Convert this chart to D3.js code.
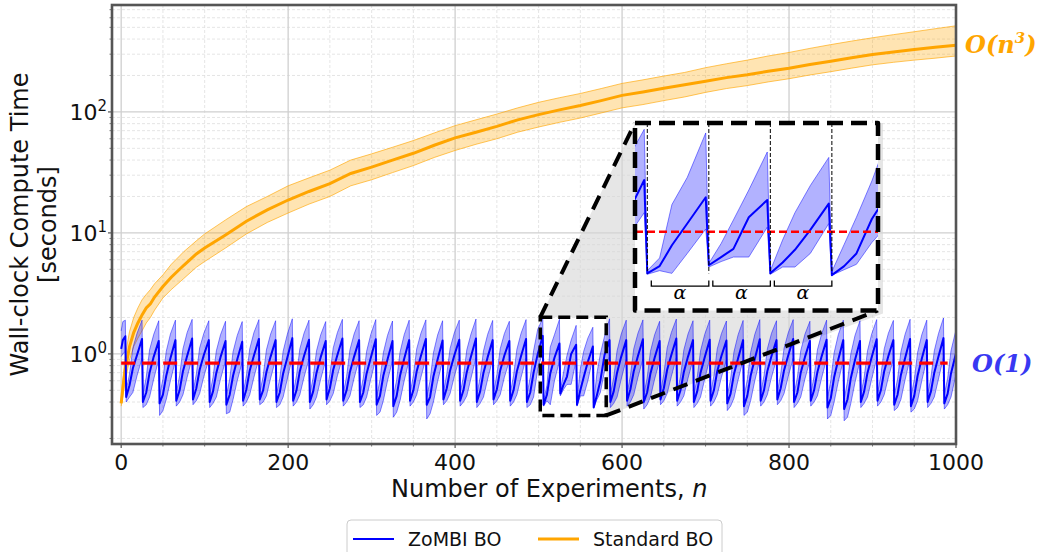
<!DOCTYPE html>
<html>
<head>
<meta charset="utf-8">
<script src="https://cdn.jsdelivr.net/npm/d3@7"></script>
<style>
  html, body { margin: 0; padding: 0; background: #fff; }
  svg { display: block; font-family: "DejaVu Sans", sans-serif; }
</style>
</head>
<body>
<svg id="chart" width="1043" height="552"></svg>
<script>
// --- Data ---
const xTicks = [0, 200, 400, 600, 800, 1000];
const yTicks = [1, 10, 100];
const yTickExp = ["0", "1", "2"];

// Standard BO: mean and spread, by number of experiments
const stdN    = [0, 2, 5, 10, 15, 20, 25, 30, 35, 40, 50, 60, 75, 90, 100, 125, 150, 175, 200, 225, 250, 275, 300, 325, 350, 375, 400, 425, 450, 475, 500, 525, 550, 575, 600, 625, 650, 675, 700, 725, 750, 775, 800, 825, 850, 875, 900, 925, 950, 975, 1000];
const stdMean = [0.39, 0.52, 0.75, 1.15, 1.5, 1.8, 2.1, 2.4, 2.6, 2.95, 3.6, 4.3, 5.4, 6.7, 7.5, 9.6, 12.5, 15.5, 18.7, 22, 25.5, 31, 35, 40, 45.5, 53, 61, 68, 76, 86, 95, 104, 113, 124, 137, 146, 157, 168, 179, 192, 203, 217, 230, 247, 262, 280, 298, 313, 328, 342, 355];
const stdLo   = [0.37, 0.45, 0.6, 0.89, 1.15, 1.35, 1.55, 1.8, 2.0, 2.3, 2.9, 3.4, 4.2, 5.2, 5.8, 7.5, 9.8, 12.2, 14.6, 17.3, 20, 24.5, 27.5, 31.5, 36, 42, 48, 54, 60, 68, 75, 82, 89, 98, 108, 115, 124, 133, 145, 156, 165, 177, 188, 202, 215, 230, 245, 257, 268, 278, 290];
const stdHi   = [0.42, 0.62, 0.98, 1.53, 2.0, 2.4, 2.8, 3.1, 3.4, 3.8, 4.5, 5.5, 7.0, 8.6, 9.8, 12.8, 16.5, 20, 24.5, 28.5, 33, 40, 45, 51, 58, 67, 77, 86, 96, 108, 120, 131, 142, 156, 172, 184, 198, 212, 232, 250, 268, 290, 310, 335, 360, 385, 410, 435, 460, 487, 515];

// ZoMBI BO: first partial segment, then one row per reset cycle (alpha = 20)
const headN    = [0, 2, 5];
const headMean = [1.10, 1.30, 1.40];
const headLo   = [0.95, 1.00, 1.05];
const headHi   = [1.55, 1.85, 1.90];

const cycleStart  = [6, 26, 46, 66, 86, 106, 126, 146, 166, 186, 206, 226, 246, 266, 286, 306, 326, 346, 366, 386, 406, 426, 446, 466, 486, 506, 526, 546, 566, 586, 606, 626, 646, 666, 686, 706, 726, 746, 766, 786, 806, 826, 846, 866, 886, 906, 926, 946, 966, 986];
const cycleOffset = [0, 4, 8, 13, 19];

const zombiMean = [
  [0.44, 0.55, 0.76, 0.98, 1.33], [0.40, 0.48, 0.70, 0.95, 1.28], [0.39, 0.46, 0.66, 0.92, 1.30],
  [0.41, 0.50, 0.72, 0.96, 1.34], [0.42, 0.52, 0.74, 0.98, 1.30], [0.40, 0.49, 0.70, 0.94, 1.28],
  [0.38, 0.46, 0.66, 0.90, 1.26], [0.41, 0.51, 0.73, 0.97, 1.33], [0.42, 0.50, 0.71, 0.95, 1.30],
  [0.40, 0.48, 0.69, 0.93, 1.35], [0.41, 0.50, 0.72, 0.96, 1.31], [0.40, 0.49, 0.70, 0.94, 1.28],
  [0.42, 0.52, 0.74, 0.98, 1.34], [0.41, 0.50, 0.71, 0.95, 1.30], [0.40, 0.48, 0.69, 0.93, 1.32],
  [0.38, 0.45, 0.66, 0.90, 1.28], [0.37, 0.45, 0.66, 0.91, 1.30], [0.41, 0.50, 0.72, 0.96, 1.33],
  [0.38, 0.44, 0.65, 0.90, 1.29], [0.42, 0.52, 0.73, 0.97, 1.31], [0.41, 0.50, 0.71, 0.95, 1.34],
  [0.40, 0.49, 0.70, 0.94, 1.30], [0.42, 0.51, 0.73, 0.97, 1.28], [0.41, 0.50, 0.72, 0.96, 1.33],
  [0.40, 0.48, 0.70, 1.00, 1.41], [0.38, 0.46, 0.69, 0.93, 1.22], [0.47, 0.56, 0.65, 1.00, 1.19],
  [0.38, 0.50, 0.64, 0.86, 1.15], [0.36, 0.46, 0.60, 0.98, 1.30], [0.40, 0.49, 0.70, 0.95, 1.30],
  [0.41, 0.51, 0.72, 0.96, 1.32], [0.40, 0.48, 0.69, 0.93, 1.28], [0.42, 0.52, 0.74, 0.98, 1.34],
  [0.41, 0.50, 0.71, 0.95, 1.30], [0.40, 0.49, 0.70, 0.94, 1.31], [0.41, 0.50, 0.72, 0.96, 1.29],
  [0.39, 0.47, 0.68, 0.92, 1.30], [0.37, 0.45, 0.66, 0.91, 1.32], [0.41, 0.50, 0.72, 0.96, 1.30],
  [0.42, 0.52, 0.73, 0.97, 1.33], [0.40, 0.48, 0.70, 0.94, 1.28], [0.41, 0.50, 0.71, 0.95, 1.31],
  [0.36, 0.43, 0.64, 0.90, 1.30], [0.35, 0.42, 0.63, 0.89, 1.28], [0.40, 0.49, 0.70, 0.94, 1.32],
  [0.41, 0.50, 0.72, 0.96, 1.30], [0.38, 0.46, 0.67, 0.92, 1.33], [0.37, 0.45, 0.66, 0.91, 1.30],
  [0.40, 0.49, 0.70, 0.95, 1.35], [0.39, 0.47, 0.69, 0.95, 1.36]
];
const zombiLo = [
  [0.40, 0.44, 0.48, 0.66, 0.92], [0.36, 0.38, 0.44, 0.62, 0.90], [0.31, 0.34, 0.42, 0.60, 0.88],
  [0.37, 0.40, 0.46, 0.64, 0.93], [0.38, 0.41, 0.47, 0.65, 0.90], [0.36, 0.39, 0.44, 0.62, 0.88],
  [0.32, 0.33, 0.42, 0.60, 0.86], [0.37, 0.40, 0.46, 0.64, 0.92], [0.38, 0.40, 0.45, 0.63, 0.90],
  [0.36, 0.38, 0.44, 0.62, 0.94], [0.37, 0.40, 0.46, 0.64, 0.91], [0.35, 0.38, 0.44, 0.62, 0.88],
  [0.38, 0.41, 0.47, 0.66, 0.93], [0.37, 0.40, 0.45, 0.63, 0.90], [0.36, 0.38, 0.44, 0.62, 0.91],
  [0.31, 0.33, 0.41, 0.60, 0.88], [0.30, 0.33, 0.41, 0.60, 0.89], [0.37, 0.40, 0.46, 0.64, 0.92],
  [0.29, 0.32, 0.40, 0.59, 0.88], [0.38, 0.41, 0.47, 0.65, 0.91], [0.37, 0.40, 0.45, 0.63, 0.93],
  [0.36, 0.39, 0.44, 0.62, 0.90], [0.38, 0.41, 0.46, 0.64, 0.88], [0.37, 0.40, 0.46, 0.64, 0.92],
  [0.36, 0.38, 0.44, 0.75, 1.05], [0.37, 0.41, 0.38, 0.60, 0.87], [0.45, 0.51, 0.56, 0.56, 0.89],
  [0.37, 0.45, 0.45, 0.60, 0.93], [0.36, 0.42, 0.48, 0.72, 0.95], [0.36, 0.39, 0.44, 0.62, 0.90],
  [0.37, 0.40, 0.46, 0.64, 0.91], [0.35, 0.38, 0.44, 0.62, 0.88], [0.38, 0.41, 0.47, 0.65, 0.93],
  [0.37, 0.40, 0.45, 0.63, 0.90], [0.36, 0.39, 0.44, 0.62, 0.91], [0.37, 0.40, 0.46, 0.64, 0.89],
  [0.34, 0.37, 0.43, 0.61, 0.89], [0.31, 0.33, 0.41, 0.60, 0.90], [0.37, 0.40, 0.46, 0.64, 0.90],
  [0.38, 0.41, 0.47, 0.65, 0.92], [0.36, 0.39, 0.44, 0.62, 0.88], [0.37, 0.40, 0.45, 0.63, 0.91],
  [0.29, 0.31, 0.40, 0.59, 0.89], [0.28, 0.30, 0.39, 0.58, 0.88], [0.36, 0.39, 0.44, 0.62, 0.91],
  [0.37, 0.40, 0.46, 0.64, 0.90], [0.34, 0.36, 0.42, 0.61, 0.92], [0.33, 0.35, 0.41, 0.60, 0.90],
  [0.36, 0.39, 0.44, 0.62, 0.94], [0.35, 0.38, 0.44, 0.63, 0.94]
];
const zombiHi = [
  [0.50, 0.68, 1.12, 1.48, 1.90], [0.46, 0.64, 1.08, 1.45, 1.88], [0.45, 0.62, 1.05, 1.46, 1.90],
  [0.47, 0.66, 1.10, 1.50, 1.93], [0.48, 0.68, 1.12, 1.48, 1.88], [0.46, 0.64, 1.06, 1.44, 1.86],
  [0.45, 0.62, 1.04, 1.42, 1.85], [0.47, 0.66, 1.10, 1.50, 1.92], [0.48, 0.65, 1.08, 1.46, 1.88],
  [0.46, 0.63, 1.05, 1.45, 1.95], [0.47, 0.66, 1.10, 1.48, 1.90], [0.46, 0.64, 1.06, 1.44, 1.85],
  [0.48, 0.68, 1.12, 1.50, 1.93], [0.47, 0.65, 1.08, 1.46, 1.88], [0.46, 0.63, 1.05, 1.45, 1.92],
  [0.44, 0.61, 1.02, 1.42, 1.87], [0.44, 0.61, 1.03, 1.44, 1.90], [0.47, 0.66, 1.10, 1.48, 1.91],
  [0.44, 0.60, 1.02, 1.43, 1.88], [0.48, 0.68, 1.11, 1.49, 1.90], [0.47, 0.65, 1.08, 1.46, 1.94],
  [0.46, 0.64, 1.06, 1.45, 1.89], [0.48, 0.67, 1.10, 1.47, 1.86], [0.47, 0.66, 1.09, 1.48, 1.92],
  [0.46, 0.64, 1.06, 1.60, 1.97], [0.41, 0.55, 1.14, 1.44, 1.93], [0.49, 0.71, 0.97, 1.30, 1.72],
  [0.41, 0.75, 1.05, 1.35, 1.66], [0.40, 0.70, 1.00, 1.40, 1.95], [0.46, 0.64, 1.06, 1.46, 1.90],
  [0.47, 0.66, 1.10, 1.48, 1.91], [0.46, 0.63, 1.05, 1.44, 1.86], [0.48, 0.68, 1.12, 1.50, 1.94],
  [0.47, 0.65, 1.08, 1.46, 1.88], [0.46, 0.64, 1.06, 1.45, 1.90], [0.47, 0.66, 1.10, 1.47, 1.87],
  [0.45, 0.62, 1.04, 1.44, 1.89], [0.44, 0.61, 1.03, 1.45, 1.92], [0.47, 0.66, 1.10, 1.48, 1.88],
  [0.48, 0.68, 1.11, 1.49, 1.92], [0.46, 0.64, 1.06, 1.45, 1.86], [0.47, 0.65, 1.08, 1.46, 1.90],
  [0.43, 0.60, 1.02, 1.44, 1.90], [0.42, 0.59, 1.00, 1.42, 1.88], [0.46, 0.64, 1.06, 1.46, 1.92],
  [0.47, 0.66, 1.10, 1.48, 1.89], [0.45, 0.62, 1.04, 1.45, 1.93], [0.44, 0.61, 1.03, 1.44, 1.90],
  [0.46, 0.64, 1.06, 1.47, 1.98], [0.46, 0.63, 1.06, 1.48, 2.02]
];

const constLevel = 0.84;          // red dashed O(1) reference
const constSpan  = [0, 990];
const zoomN      = [502, 581];    // zoomed window
const zoomY      = [0.31, 2.01];
const insetY     = [-0.03, 2.04];
const resets     = [506, 526, 546, 566];

// --- Layout ---
const W = 1043, H = 552;
const plot  = { left: 112, right: 956, top: 5, bottom: 444 };
const inset = { left: 635, right: 878, top: 123, bottom: 310.5 };
const orange = "#FFA500", blue = "#0000FF";

const svg = d3.select("#chart");
const defs = svg.append("defs");
defs.append("clipPath").attr("id", "clipMain").append("rect")
  .attr("x", plot.left).attr("y", plot.top)
  .attr("width", plot.right - plot.left).attr("height", plot.bottom - plot.top);
defs.append("clipPath").attr("id", "clipInset").append("rect")
  .attr("x", inset.left).attr("y", inset.top)
  .attr("width", inset.right - inset.left).attr("height", inset.bottom - inset.top);

const x = d3.scaleLinear().domain([-11, 1000]).range([plot.left, plot.right]);
const y = d3.scaleLog().domain([0.18, 765]).range([plot.bottom, plot.top]);

// --- Assemble series ---
const stdPts = stdN.map((n, i) => ({ n, m: stdMean[i], lo: stdLo[i], hi: stdHi[i] }));
const zPts = headN.map((n, i) => ({ n, m: headMean[i], lo: headLo[i], hi: headHi[i] }));
cycleStart.forEach((s, k) => {
  cycleOffset.forEach((o, j) => {
    zPts.push({ n: s + o, m: zombiMean[k][j], lo: zombiLo[k][j], hi: zombiHi[k][j] });
  });
});

// --- Grid ---
const grid = svg.append("g");
const xMinor = d3.range(0, 1001, 50).filter(v => v % 200 !== 0);
const yMinor = [];
[0.1, 1, 10, 100].forEach(d => d3.range(2, 10).forEach(k => {
  const v = d * k;
  if (v > 0.18 && v < 765) yMinor.push(v);
}));
grid.selectAll(".xm").data(xMinor).enter().append("line")
  .attr("x1", d => x(d)).attr("x2", d => x(d))
  .attr("y1", plot.top).attr("y2", plot.bottom)
  .attr("stroke", "#dedede").attr("stroke-width", 0.8).attr("stroke-dasharray", "3,2");
grid.selectAll(".ym").data(yMinor).enter().append("line")
  .attr("x1", plot.left).attr("x2", plot.right)
  .attr("y1", d => y(d)).attr("y2", d => y(d))
  .attr("stroke", "#dedede").attr("stroke-width", 0.8).attr("stroke-dasharray", "3,2");
grid.selectAll(".xM").data(xTicks).enter().append("line")
  .attr("x1", d => x(d)).attr("x2", d => x(d))
  .attr("y1", plot.top).attr("y2", plot.bottom)
  .attr("stroke", "#cfcfcf").attr("stroke-width", 1.3);
grid.selectAll(".yM").data(yTicks).enter().append("line")
  .attr("x1", plot.left).attr("x2", plot.right)
  .attr("y1", d => y(d)).attr("y2", d => y(d))
  .attr("stroke", "#cfcfcf").attr("stroke-width", 1.3);

// --- Gray zoom funnel ---
const bx0 = x(zoomN[0]), bx1 = x(zoomN[1]), by0 = y(zoomY[1]), by1 = y(zoomY[0]);
svg.append("polygon")
  .attr("points", [
    [bx0, by0], [inset.left, inset.top], [inset.right + 5, inset.top],
    [inset.right + 5, inset.bottom + 3], [bx1, by1], [bx1, by0]
  ].map(p => p.join(",")).join(" "))
  .attr("fill", "#d6d6d6").attr("fill-opacity", 0.6);

// --- Main data ---
function drawSeries(g, xs, ys, widths) {
  const area = d3.area().x(d => xs(d.n)).y0(d => ys(d.lo)).y1(d => ys(d.hi));
  const line = key => d3.line().x(d => xs(d.n)).y(d => ys(d[key]));

  g.append("path").datum(stdPts).attr("d", area)
    .attr("fill", orange).attr("fill-opacity", 0.3);
  ["lo", "hi"].forEach(k => g.append("path").datum(stdPts).attr("d", line(k))
    .attr("fill", "none").attr("stroke", orange).attr("stroke-width", 0.8).attr("stroke-opacity", 0.8));
  g.append("path").datum(stdPts).attr("d", line("m"))
    .attr("fill", "none").attr("stroke", orange).attr("stroke-width", widths.orange);

  g.append("path").datum(zPts).attr("d", area)
    .attr("fill", blue).attr("fill-opacity", 0.3);
  ["lo", "hi"].forEach(k => g.append("path").datum(zPts).attr("d", line(k))
    .attr("fill", "none").attr("stroke", blue).attr("stroke-width", 0.8).attr("stroke-opacity", 0.6));
  g.append("path").datum(zPts).attr("d", line("m"))
    .attr("fill", "none").attr("stroke", blue).attr("stroke-width", widths.blue)
    .attr("stroke-linejoin", "round");
}

const main = svg.append("g").attr("clip-path", "url(#clipMain)");
drawSeries(main, x, y, { orange: 3, blue: 2 });
main.append("line")
  .attr("x1", x(constSpan[0])).attr("x2", x(constSpan[1]))
  .attr("y1", y(constLevel)).attr("y2", y(constLevel))
  .attr("stroke", "#FF0000").attr("stroke-width", 3.3).attr("stroke-dasharray", "14,7");

// --- Source box and connectors ---
svg.append("rect")
  .attr("x", bx0).attr("y", by0).attr("width", bx1 - bx0).attr("height", by1 - by0)
  .attr("fill", "none").attr("stroke", "#000").attr("stroke-width", 3.5)
  .attr("stroke-dasharray", "12,6");
svg.append("line").attr("x1", bx0).attr("y1", by0).attr("x2", inset.left).attr("y2", inset.top)
  .attr("stroke", "#000").attr("stroke-width", 4).attr("stroke-dasharray", "15,9");
svg.append("line").attr("x1", bx1).attr("y1", by1).attr("x2", inset.right).attr("y2", inset.bottom)
  .attr("stroke", "#000").attr("stroke-width", 4).attr("stroke-dasharray", "15,9");

// --- Inset ---
const xi = d3.scaleLinear().domain(zoomN).range([inset.left, inset.right]);
const yi = d3.scaleLinear().domain(insetY).range([inset.bottom, inset.top]);
svg.append("rect")
  .attr("x", inset.left).attr("y", inset.top)
  .attr("width", inset.right - inset.left).attr("height", inset.bottom - inset.top)
  .attr("fill", "#fff");
const ig = svg.append("g").attr("clip-path", "url(#clipInset)");
drawSeries(ig, xi, yi, { orange: 3, blue: 2 });
ig.append("line")
  .attr("x1", inset.left).attr("x2", inset.right)
  .attr("y1", yi(constLevel)).attr("y2", yi(constLevel))
  .attr("stroke", "#FF0000").attr("stroke-width", 2.4).attr("stroke-dasharray", "8,4");
ig.selectAll(".reset").data(resets).enter().append("line")
  .attr("x1", d => xi(d)).attr("x2", d => xi(d))
  .attr("y1", inset.top).attr("y2", yi(0.38))
  .attr("stroke", "#000").attr("stroke-width", 1).attr("stroke-dasharray", "4,2");
const brackets = resets.slice(0, 3);
ig.selectAll(".br").data(brackets).enter().append("path")
  .attr("d", d => `M${xi(d + 1.3)},${yi(0.30)}V${yi(0.24)}H${xi(d + 20)}V${yi(0.30)}`)
  .attr("fill", "none").attr("stroke", "#000").attr("stroke-width", 1.3);
ig.selectAll(".al").data(brackets).enter().append("text")
  .attr("x", d => xi(d + 10.6)).attr("y", 299)
  .attr("text-anchor", "middle")
  .style("font-family", "'DejaVu Serif', serif").style("font-style", "italic")
  .style("font-size", "19px").attr("fill", "#000")
  .text("α");
svg.append("rect")
  .attr("x", inset.left).attr("y", inset.top)
  .attr("width", inset.right - inset.left).attr("height", inset.bottom - inset.top)
  .attr("fill", "none").attr("stroke", "#000").attr("stroke-width", 4.5)
  .attr("stroke-dasharray", "16,8").attr("stroke-linejoin", "round");

// --- Frame, ticks, labels ---
svg.append("rect")
  .attr("x", plot.left).attr("y", plot.top)
  .attr("width", plot.right - plot.left).attr("height", plot.bottom - plot.top)
  .attr("fill", "none").attr("stroke", "#555").attr("stroke-width", 2.6);

const ticks = svg.append("g").attr("stroke", "#555");
xTicks.forEach(v => ticks.append("line").attr("x1", x(v)).attr("x2", x(v))
  .attr("y1", plot.bottom).attr("y2", plot.bottom + 4).attr("stroke-width", 1.2));
xMinor.forEach(v => ticks.append("line").attr("x1", x(v)).attr("x2", x(v))
  .attr("y1", plot.bottom).attr("y2", plot.bottom + 2.5).attr("stroke-width", 0.8));
yTicks.forEach(v => ticks.append("line").attr("x1", plot.left - 4).attr("x2", plot.left)
  .attr("y1", y(v)).attr("y2", y(v)).attr("stroke-width", 1.2));
yMinor.forEach(v => ticks.append("line").attr("x1", plot.left - 2.5).attr("x2", plot.left)
  .attr("y1", y(v)).attr("y2", y(v)).attr("stroke-width", 0.8));

svg.selectAll(".xl").data(xTicks).enter().append("text")
  .attr("x", d => x(d)).attr("y", 470)
  .attr("text-anchor", "middle").style("font-size", "22px").attr("fill", "#111")
  .text(d => d);

yTicks.forEach((v, i) => {
  const t = svg.append("text")
    .attr("x", 107).attr("y", y(v) + 8)
    .attr("text-anchor", "end").style("font-size", "22px").attr("fill", "#111");
  t.append("tspan").text("10");
  t.append("tspan").attr("dy", -9).style("font-size", "15px").text(yTickExp[i]);
});

const xl = svg.append("text").attr("x", 391).attr("y", 497)
  .style("font-size", "24px").attr("fill", "#111");
xl.append("tspan").text("Number of Experiments, ");
xl.append("tspan").style("font-style", "italic").text("n");

svg.append("text")
  .attr("transform", `translate(28,${(plot.top + plot.bottom) / 2}) rotate(-90)`)
  .attr("text-anchor", "middle").style("font-size", "24px").attr("fill", "#111")
  .text("Wall-clock Compute Time");
svg.append("text")
  .attr("transform", `translate(56,${(plot.top + plot.bottom) / 2}) rotate(-90)`)
  .attr("text-anchor", "middle").style("font-size", "24px").attr("fill", "#111")
  .text("[seconds]");

// --- Complexity labels ---
const on3 = svg.append("text").attr("x", 965).attr("y", 53)
  .style("font-family", "'DejaVu Serif', serif").style("font-weight", "bold")
  .style("font-style", "italic").style("font-size", "24px").attr("fill", orange);
on3.append("tspan").text("O(n");
on3.append("tspan").attr("dy", -10).style("font-size", "15px").text("3");
on3.append("tspan").attr("dy", 10).text(")");

svg.append("text").attr("x", 972).attr("y", 372)
  .style("font-family", "'DejaVu Serif', serif").style("font-weight", "bold")
  .style("font-style", "italic").style("font-size", "24px").attr("fill", "#3838f2")
  .text("O(1)");

// --- Legend ---
const leg = svg.append("g");
leg.append("rect").attr("x", 347).attr("y", 520).attr("width", 375).attr("height", 42)
  .attr("rx", 4).attr("fill", "#fff").attr("stroke", "#cccccc").attr("stroke-width", 1);
const legItems = [
  { label: "ZoMBI BO", color: blue, w: 2, x0: 353 },
  { label: "Standard BO", color: orange, w: 3, x0: 538 }
];
legItems.forEach(it => {
  leg.append("line").attr("x1", it.x0).attr("x2", it.x0 + 41)
    .attr("y1", 539).attr("y2", 539).attr("stroke", it.color).attr("stroke-width", it.w);
  leg.append("text").attr("x", it.x0 + 55).attr("y", 546)
    .style("font-size", "19px").attr("fill", "#111").text(it.label);
});
</script>
</body>
</html>
